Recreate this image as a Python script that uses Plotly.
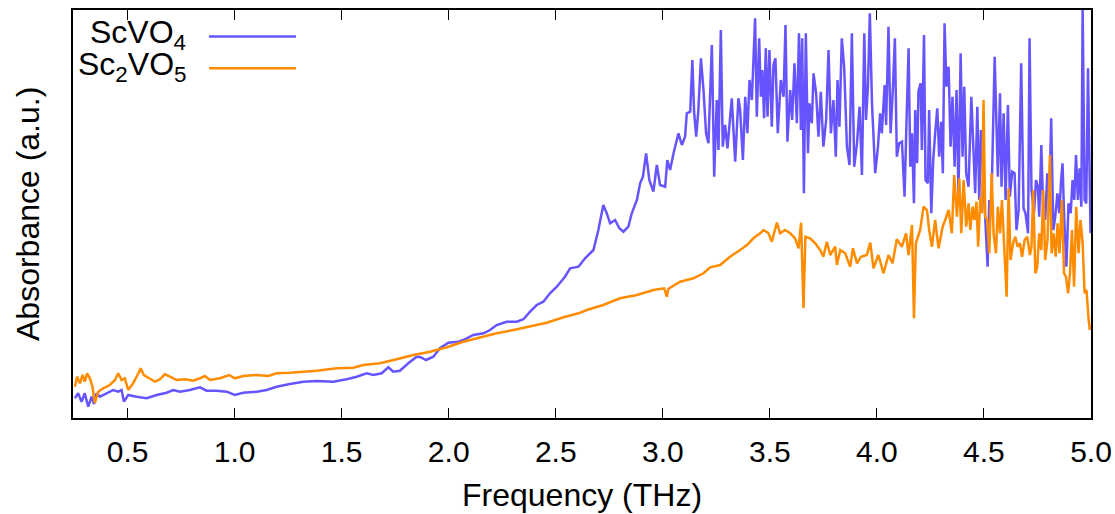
import plotly.graph_objects as go

# ---------------- data ----------------
scvo4_freq = [
    0.254, 0.269, 0.285, 0.300, 0.316, 0.332, 0.343, 0.355, 0.371, 0.402, 0.433, 0.456, 0.472, 0.483,
    0.503, 0.542, 0.589, 0.636, 0.682, 0.713, 0.744, 0.791, 0.838, 0.869, 0.916, 0.963, 1.001, 1.040,
    1.103, 1.150, 1.196, 1.258, 1.321, 1.383, 1.461, 1.523, 1.570, 1.617, 1.648, 1.687, 1.718, 1.741,
    1.772, 1.811, 1.850, 1.866, 1.894, 1.928, 1.959, 1.998, 2.045, 2.068, 2.115, 2.162, 2.193, 2.224,
    2.271, 2.318, 2.349, 2.380, 2.411, 2.442, 2.473, 2.505, 2.543, 2.567, 2.606, 2.637, 2.676, 2.699,
    2.722, 2.738, 2.754, 2.777, 2.797, 2.816, 2.839, 2.855, 2.879, 2.894, 2.907, 2.922, 2.937, 2.956,
    2.972, 2.987, 3.011, 3.021, 3.034, 3.050, 3.073, 3.089, 3.104, 3.112, 3.128, 3.138, 3.146, 3.156,
    3.166, 3.178, 3.190, 3.202, 3.213, 3.229, 3.240, 3.252, 3.260, 3.271, 3.280, 3.291, 3.302, 3.322,
    3.338, 3.353, 3.361, 3.374, 3.385, 3.395, 3.405, 3.416, 3.431, 3.439, 3.450, 3.458, 3.465, 3.473,
    3.481, 3.489, 3.498, 3.509, 3.517, 3.526, 3.537, 3.551, 3.564, 3.573, 3.582, 3.595, 3.604, 3.615,
    3.626, 3.636, 3.645, 3.651, 3.659, 3.668, 3.678, 3.685, 3.696, 3.704, 3.716, 3.727, 3.738, 3.750,
    3.763, 3.774, 3.785, 3.797, 3.808, 3.816, 3.825, 3.836, 3.847, 3.860, 3.872, 3.883, 3.894, 3.907,
    3.919, 3.930, 3.941, 3.949, 3.958, 3.967, 3.977, 3.992, 4.005, 4.015, 4.023, 4.036, 4.043, 4.054,
    4.064, 4.075, 4.084, 4.093, 4.104, 4.117, 4.129, 4.137, 4.148, 4.156, 4.164, 4.173, 4.179, 4.188,
    4.194, 4.204, 4.210, 4.220, 4.227, 4.238, 4.244, 4.254, 4.263, 4.272, 4.282, 4.291, 4.300, 4.308,
    4.316, 4.325, 4.335, 4.344, 4.353, 4.363, 4.372, 4.381, 4.391, 4.400, 4.408, 4.417, 4.428, 4.441,
    4.451, 4.459, 4.469, 4.478, 4.486, 4.495, 4.506, 4.517, 4.525, 4.534, 4.550, 4.559, 4.565, 4.575,
    4.582, 4.592, 4.601, 4.612, 4.621, 4.632, 4.643, 4.652, 4.662, 4.674, 4.685, 4.694, 4.706, 4.713,
    4.722, 4.734, 4.743, 4.752, 4.758, 4.768, 4.777, 4.786, 4.796, 4.805, 4.814, 4.824, 4.833, 4.843,
    4.852, 4.860, 4.867, 4.875, 4.885, 4.895, 4.905, 4.914, 4.922, 4.930, 4.939, 4.947, 4.955, 4.961,
    4.970, 4.978, 4.986, 4.993, 4.998,
]
scvo4_abs = [
    19.7, 24.7, 16.3, 24.7, 11.3, 21.3, 14.0, 24.7, 21.3, 24.7, 28.0, 26.3, 28.0, 16.3,
    23.0, 21.3, 19.7, 23.0, 25.3, 28.0, 26.3, 28.0, 30.7, 27.3, 27.3, 26.3, 23.0, 25.3,
    26.3, 28.0, 31.3, 34.0, 36.3, 37.0, 36.3, 38.7, 41.3, 44.7, 43.0, 44.7, 50.7, 46.3,
    47.3, 54.7, 61.3, 61.0, 58.0, 61.3, 69.7, 75.3, 76.3, 78.0, 83.0, 84.7, 88.0, 93.0,
    96.3, 96.3, 98.7, 106.3, 113.0, 116.3, 124.7, 131.3, 141.3, 149.7, 151.3, 159.7, 168.0, 188.0,
    213.0, 204.7, 194.7, 198.0, 189.7, 186.3, 191.3, 204.7, 218.0, 234.7, 241.3, 264.7, 238.0, 226.3,
    253.0, 233.0, 231.3, 258.0, 248.0, 264.7, 284.7, 273.0, 281.3, 304.7, 306.3, 358.0, 306.3, 281.3,
    308.0, 359.7, 328.0, 284.7, 274.7, 373.0, 241.3, 318.0, 268.0, 388.0, 271.3, 293.0, 269.7, 319.7,
    256.3, 319.7, 308.0, 258.0, 321.3, 284.7, 338.0, 318.0, 399.7, 301.3, 379.7, 321.3, 348.0, 299.7,
    369.7, 301.3, 368.0, 291.3, 353.0, 359.7, 284.7, 338.0, 321.3, 393.0, 276.3, 328.0, 298.0, 354.7,
    294.7, 384.7, 288.0, 379.7, 224.7, 384.7, 264.7, 314.7, 294.7, 344.7, 324.7, 281.3, 326.3, 271.3,
    298.0, 368.0, 284.7, 318.0, 261.3, 338.0, 291.3, 379.7, 351.3, 271.3, 253.0, 384.7, 251.3, 274.7,
    311.3, 243.0, 384.7, 298.0, 331.3, 404.7, 314.7, 244.7, 271.3, 304.7, 284.7, 333.0, 293.0, 391.3,
    284.7, 331.3, 379.7, 261.3, 274.7, 276.3, 221.3, 286.3, 369.7, 251.3, 284.7, 214.7, 308.0, 254.7,
    326.3, 334.7, 268.0, 383.0, 238.0, 234.7, 308.0, 204.7, 258.0, 284.7, 309.7, 261.3, 296.3, 244.7,
    394.7, 331.3, 351.3, 271.3, 321.3, 251.3, 328.0, 223.0, 364.7, 261.3, 331.3, 244.7, 231.3, 321.3,
    269.7, 224.7, 311.3, 218.0, 288.0, 244.7, 204.7, 151.3, 218.0, 204.7, 361.3, 278.0, 241.3, 324.7,
    231.3, 304.7, 218.0, 313.0, 221.3, 246.3, 244.7, 188.0, 208.0, 354.7, 209.7, 204.7, 184.7, 379.7,
    228.0, 204.7, 238.0, 231.3, 201.3, 273.0, 204.7, 198.0, 244.7, 211.3, 299.7, 188.0, 201.3, 224.7,
    204.7, 236.3, 254.7, 198.0, 151.3, 214.7, 204.7, 238.0, 218.0, 263.0, 218.0, 249.7, 211.3, 412.0,
    218.0, 214.7, 349.7, 251.3, 184.7,
]

sc2vo5_freq = [
    0.254, 0.264, 0.277, 0.290, 0.300, 0.311, 0.324, 0.336, 0.347, 0.363, 0.386, 0.417, 0.441, 0.456,
    0.472, 0.487, 0.503, 0.526, 0.550, 0.561, 0.576, 0.604, 0.628, 0.651, 0.674, 0.698, 0.729, 0.768,
    0.807, 0.838, 0.861, 0.885, 0.931, 0.975, 1.001, 1.040, 1.103, 1.157, 1.196, 1.258, 1.321, 1.383,
    1.477, 1.554, 1.601, 1.679, 1.757, 1.835, 1.913, 1.991, 2.068, 2.146, 2.224, 2.302, 2.380, 2.458,
    2.536, 2.606, 2.645, 2.722, 2.800, 2.879, 2.956, 3.006, 3.019, 3.025, 3.081, 3.143, 3.190, 3.221,
    3.268, 3.314, 3.361, 3.393, 3.423, 3.455, 3.470, 3.493, 3.509, 3.533, 3.548, 3.571, 3.595, 3.618,
    3.634, 3.646, 3.657, 3.666, 3.688, 3.712, 3.735, 3.750, 3.766, 3.782, 3.805, 3.813, 3.829, 3.852,
    3.875, 3.888, 3.907, 3.925, 3.953, 3.969, 3.984, 4.007, 4.031, 4.054, 4.073, 4.093, 4.117, 4.136,
    4.148, 4.164, 4.173, 4.182, 4.202, 4.218, 4.234, 4.244, 4.257, 4.272, 4.288, 4.307, 4.319, 4.335,
    4.350, 4.361, 4.374, 4.385, 4.394, 4.405, 4.417, 4.428, 4.436, 4.447, 4.456, 4.465, 4.473, 4.483,
    4.491, 4.498, 4.506, 4.515, 4.525, 4.536, 4.545, 4.556, 4.565, 4.575, 4.584, 4.593, 4.606, 4.615,
    4.624, 4.636, 4.646, 4.657, 4.668, 4.678, 4.690, 4.702, 4.715, 4.722, 4.730, 4.740, 4.749, 4.758,
    4.768, 4.777, 4.786, 4.797, 4.808, 4.816, 4.825, 4.835, 4.844, 4.853, 4.864, 4.874, 4.883, 4.893,
    4.902, 4.911, 4.921, 4.931, 4.942, 4.951, 4.961, 4.970, 4.979, 4.989, 4.995,
]
sc2vo5_abs = [
    31.3, 41.3, 34.7, 43.0, 36.3, 44.7, 39.7, 31.3, 15.0, 26.3, 29.7, 33.0, 38.0, 44.7,
    38.0, 39.7, 28.0, 34.7, 44.7, 49.7, 43.0, 39.7, 36.3, 38.7, 43.7, 41.3, 38.0, 38.7,
    37.3, 39.7, 42.0, 38.0, 39.7, 43.0, 39.7, 42.0, 43.0, 42.0, 44.7, 45.3, 46.3, 47.3,
    49.7, 50.3, 53.0, 54.7, 58.7, 63.0, 66.3, 70.7, 76.3, 80.7, 84.7, 88.0, 91.3, 95.3,
    100.7, 104.7, 108.0, 113.0, 119.7, 123.0, 128.0, 129.7, 121.3, 129.0, 136.3, 139.7, 144.7, 150.7,
    153.0, 161.3, 168.0, 173.0, 179.7, 184.7, 188.0, 185.0, 176.3, 195.3, 184.7, 188.0, 184.7, 179.7,
    169.7, 195.3, 109.7, 181.3, 179.7, 174.7, 168.0, 161.3, 176.3, 163.0, 171.3, 153.0, 168.0, 164.7,
    151.3, 169.7, 154.7, 161.3, 163.0, 175.3, 149.7, 163.0, 144.7, 163.0, 154.7, 178.7, 171.3, 184.7,
    163.0, 193.0, 99.7, 174.7, 188.0, 211.3, 208.0, 188.0, 171.3, 198.0, 169.7, 191.3, 198.0, 208.0,
    184.7, 243.0, 201.3, 239.7, 184.7, 238.0, 191.3, 214.7, 188.0, 211.3, 198.0, 216.3, 171.3, 221.3,
    204.7, 318.0, 201.3, 198.0, 164.7, 244.7, 184.7, 164.7, 211.3, 184.7, 218.0, 178.0, 121.3, 229.7,
    158.0, 174.7, 181.3, 171.3, 174.7, 161.3, 178.0, 181.3, 163.0, 171.3, 228.0, 144.7, 151.3, 184.7,
    168.0, 228.0, 158.0, 178.0, 263.0, 164.7, 184.7, 161.3, 194.7, 164.7, 218.0, 144.7, 141.3, 124.7,
    144.7, 188.0, 131.3, 211.3, 164.7, 198.0, 174.7, 124.7, 128.0, 98.0, 88.0,
]

x_ticks = [0.5, 1.0, 1.5, 2.0, 2.5, 3.0, 3.5, 4.0, 4.5, 5.0]
series_names = ["ScVO<sub>4</sub>", "Sc<sub>2</sub>VO<sub>5</sub>"]
series_colors = ["#6655ff", "#ff8c00"]

FONT = "Liberation Sans, Arial, sans-serif"
FS_TICK = 30
FS_TITLE = 32
FS_LEG = 32

fig = go.Figure()
fig.add_trace(go.Scatter(x=scvo4_freq, y=scvo4_abs, mode="lines", name=series_names[0],
                         line=dict(color=series_colors[0], width=2.5), showlegend=False))
fig.add_trace(go.Scatter(x=sc2vo5_freq, y=sc2vo5_abs, mode="lines", name=series_names[1],
                         line=dict(color=series_colors[1], width=2.5), showlegend=False))

# gnuplot-style legend: text right-aligned, line sample on the right
legend_y = [0.939, 0.861]
for name, col, ly in zip(series_names, series_colors, legend_y):
    fig.add_annotation(x=0.113, y=ly, xref="paper", yref="paper", text=name, showarrow=False,
                       xanchor="right", yanchor="middle", font=dict(family=FONT, size=FS_LEG, color="black"))
    fig.add_shape(type="line", xref="paper", yref="paper", x0=0.1336, x1=0.219, y0=ly - 0.004, y1=ly - 0.004,
                  line=dict(color=col, width=2.5))

fig.add_annotation(x=-0.0442, y=0.5, xref="paper", yref="paper", text="Absorbance (a.u.)", textangle=-90,
                   showarrow=False, xanchor="center", yanchor="middle",
                   font=dict(family=FONT, size=FS_TITLE, color="black"))
fig.add_annotation(x=0.5, y=-0.189, xref="paper", yref="paper", text="Frequency (THz)",
                   showarrow=False, xanchor="center", yanchor="middle",
                   font=dict(family=FONT, size=FS_TITLE, color="black"))

fig.update_layout(
    width=1115, height=514,
    margin=dict(l=73, r=24, t=10, b=96, autoexpand=False),
    paper_bgcolor="white", plot_bgcolor="white",
    font=dict(family=FONT, size=FS_TICK, color="black"),
    xaxis=dict(range=[0.245, 5.0], tickvals=x_ticks, ticktext=[f"{v:.1f}" for v in x_ticks],
               ticks="inside", ticklen=10, tickwidth=1, tickcolor="black", automargin=False,
               ticklabelstandoff=6,
               showline=True, linewidth=2, linecolor="black", mirror="ticks",
               showgrid=False, zeroline=False, tickfont=dict(family=FONT, size=FS_TICK, color="black")),
    yaxis=dict(range=[0, 408], showticklabels=False, ticks="", automargin=False,
               showline=True, linewidth=2, linecolor="black", mirror=True,
               showgrid=False, zeroline=False),
)

fig.write_html("out.html")
